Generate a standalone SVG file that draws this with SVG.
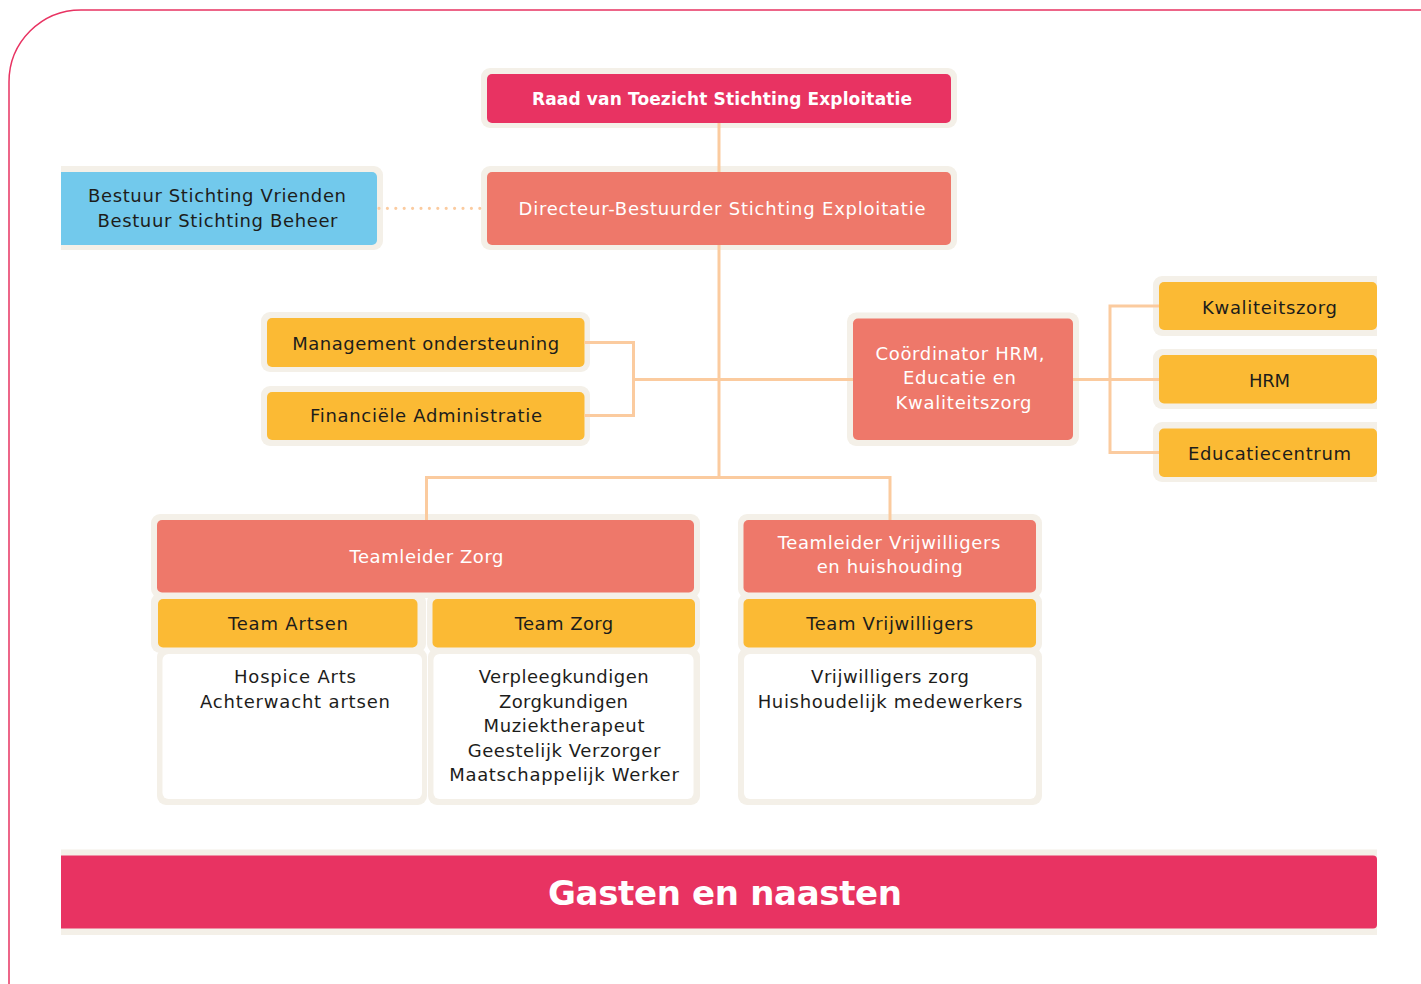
<svg xmlns="http://www.w3.org/2000/svg" width="1421" height="984" viewBox="0 0 1421 984">
<style>
.c{fill:#F4F0E8}
.pk{fill:#E83362}
.sa{fill:#EE786A}
.ye{fill:#FBBA34}
.bl{fill:#72C9EC}
.wh{fill:#FFFFFF}
.t{font-family:"DejaVu Sans","Liberation Sans",sans-serif;font-size:18px;fill:#1D1D1B;text-anchor:middle}
.w{fill:#FFFFFF}
.b{font-weight:bold}
.ln{stroke:#FBCB9F;stroke-width:3;fill:none}
.dot{stroke:#FBCB9F;stroke-width:3.2;fill:none;stroke-linecap:round;stroke-dasharray:0 8.4}
</style>
<defs>
<clipPath id="clip"><rect x="61" y="0" width="1316" height="984"/></clipPath>
</defs>
<rect width="1421" height="984" fill="#FFFFFF"/>
<path d="M9 984 V82 A72 72 0 0 1 81 10 H1421" fill="none" stroke="#E83362" stroke-width="1.5"/>
<g clip-path="url(#clip)">
<g id="raad">
<rect class="c" x="481" y="68" width="476" height="60" rx="9"/>
<rect class="pk" x="487" y="74" width="464" height="49" rx="5"/>
<text class="t w b" x="722" y="105" style="font-size:17px" textLength="380" lengthAdjust="spacing">Raad van Toezicht Stichting Exploitatie</text>
</g>
<g id="directeur">
<rect class="c" x="481" y="166" width="476" height="84" rx="9"/>
<rect class="sa" x="487" y="172" width="464" height="73" rx="5"/>
<text class="t w" x="722" y="215" textLength="407" lengthAdjust="spacing">Directeur-Bestuurder Stichting Exploitatie</text>
</g>
<g id="bestuur">
<rect class="c" x="49" y="166" width="334" height="84" rx="9"/>
<rect class="bl" x="55" y="172" width="322" height="73" rx="5"/>
<text class="t" x="217" y="202" textLength="258" lengthAdjust="spacing">Bestuur Stichting Vrienden</text>
<text class="t" x="217.5" y="227" textLength="240" lengthAdjust="spacing">Bestuur Stichting Beheer</text>
</g>
<g id="management">
<rect class="c" x="261" y="312" width="329" height="60" rx="9"/>
<rect class="ye" x="267" y="318" width="317.5" height="49" rx="5"/>
<text class="t" x="425.7" y="350" textLength="267" lengthAdjust="spacing">Management ondersteuning</text>
</g>
<g id="financiele">
<rect class="c" x="261" y="386" width="329" height="60" rx="9"/>
<rect class="ye" x="267" y="392" width="317.5" height="48" rx="5"/>
<text class="t" x="426" y="422" textLength="232" lengthAdjust="spacing">Financiële Administratie</text>
</g>
<g id="coordinator">
<rect class="c" x="847" y="312.5" width="232" height="133.5" rx="9"/>
<rect class="sa" x="853" y="318.5" width="220" height="121.5" rx="5"/>
<text class="t w" x="960" y="360" textLength="169" lengthAdjust="spacing">Coördinator HRM,</text>
<text class="t w" x="959.5" y="384" textLength="113" lengthAdjust="spacing">Educatie en</text>
<text class="t w" x="963.5" y="409" textLength="136" lengthAdjust="spacing">Kwaliteitszorg</text>
</g>
<g id="kwaliteitszorg">
<rect class="c" x="1153" y="276" width="240" height="60" rx="9"/>
<rect class="ye" x="1159" y="282" width="218" height="48" rx="5"/>
<text class="t" x="1269.5" y="314" textLength="135" lengthAdjust="spacing">Kwaliteitszorg</text>
</g>
<g id="hrm">
<rect class="c" x="1153" y="349" width="240" height="60" rx="9"/>
<rect class="ye" x="1159" y="355" width="218" height="48.5" rx="5"/>
<text class="t" x="1269.5" y="387" textLength="41" lengthAdjust="spacing">HRM</text>
</g>
<g id="educatiecentrum">
<rect class="c" x="1153" y="422" width="240" height="60" rx="9"/>
<rect class="ye" x="1159" y="428.5" width="218" height="48.5" rx="5"/>
<text class="t" x="1269.5" y="460" textLength="163" lengthAdjust="spacing">Educatiecentrum</text>
</g>
<g id="teamleider-zorg">
<rect class="c" x="151" y="514" width="549" height="84" rx="9"/>
<rect class="sa" x="157" y="520" width="537" height="72.5" rx="5"/>
<text class="t w" x="426.5" y="563" textLength="154" lengthAdjust="spacing">Teamleider Zorg</text>
</g>
<g id="team-artsen">
<rect class="c" x="151" y="593" width="275" height="60" rx="9"/>
<rect class="ye" x="158" y="599" width="259.5" height="48.5" rx="5"/>
<text class="t" x="288" y="630" textLength="120" lengthAdjust="spacing">Team Artsen</text>
</g>
<g id="team-zorg">
<rect class="c" x="427" y="593" width="273" height="60" rx="9"/>
<rect class="ye" x="432.5" y="599" width="262.5" height="48.5" rx="5"/>
<text class="t" x="564" y="630" textLength="98.5" lengthAdjust="spacing">Team Zorg</text>
</g>
<g id="artsen-leden">
<rect class="c" x="157" y="648" width="270" height="157" rx="9"/>
<rect class="wh" x="162.5" y="654" width="259.5" height="145" rx="6"/>
<text class="t" x="295" y="683" textLength="122" lengthAdjust="spacing">Hospice Arts</text>
<text class="t" x="295" y="708" textLength="190" lengthAdjust="spacing">Achterwacht artsen</text>
</g>
<g id="zorg-leden">
<rect class="c" x="428" y="648" width="272" height="157" rx="9"/>
<rect class="wh" x="433.5" y="654" width="260" height="145" rx="6"/>
<text class="t" x="563.7" y="683" textLength="170" lengthAdjust="spacing">Verpleegkundigen</text>
<text class="t" x="563.5" y="708" textLength="129" lengthAdjust="spacing">Zorgkundigen</text>
<text class="t" x="564" y="732" textLength="161" lengthAdjust="spacing">Muziektherapeut</text>
<text class="t" x="564" y="757" textLength="192.6" lengthAdjust="spacing">Geestelijk Verzorger</text>
<text class="t" x="564" y="781" textLength="229.6" lengthAdjust="spacing">Maatschappelijk Werker</text>
</g>
<g id="teamleider-vrijwilligers">
<rect class="c" x="738" y="514" width="304" height="84" rx="9"/>
<rect class="sa" x="743.5" y="520" width="292.5" height="72.5" rx="5"/>
<text class="t w" x="889" y="549" textLength="222.7" lengthAdjust="spacing">Teamleider Vrijwilligers</text>
<text class="t w" x="889.7" y="572.5" textLength="146" lengthAdjust="spacing">en huishouding</text>
</g>
<g id="team-vrijwilligers">
<rect class="c" x="738" y="593" width="304" height="60" rx="9"/>
<rect class="ye" x="743.5" y="599" width="292.5" height="48.5" rx="5"/>
<text class="t" x="889.7" y="630" textLength="167" lengthAdjust="spacing">Team Vrijwilligers</text>
</g>
<g id="vrijwilligers-leden">
<rect class="c" x="738" y="648" width="304" height="157" rx="9"/>
<rect class="wh" x="744" y="654" width="292" height="145" rx="6"/>
<text class="t" x="890" y="683" textLength="158" lengthAdjust="spacing">Vrijwilligers zorg</text>
<text class="t" x="890" y="708" textLength="264.7" lengthAdjust="spacing">Huishoudelijk medewerkers</text>
</g>
<g id="gasten">
<rect class="c" x="55" y="849.5" width="1328" height="85.5" rx="4"/>
<rect class="pk" x="55" y="855.5" width="1322" height="73" rx="4"/>
<text class="t w b" x="725" y="905" style="font-size:34px" textLength="354" lengthAdjust="spacing">Gasten en naasten</text>
</g>
<g id="connectors">
<path class="ln" d="M719 123 V172"/>
<path class="dot" d="M379 208.3 H482"/>
<path class="ln" d="M719 245 V477"/>
<path class="ln" d="M584.5 342.5 H633.5 V415.5 H584.5"/>
<path class="ln" d="M633.5 379.5 H853"/>
<path class="ln" d="M1073 379.5 H1159"/>
<path class="ln" d="M1159 306 H1110 V452.5 H1159"/>
<path class="ln" d="M426.5 520 V477.5 H890 V520"/>
</g>
</g>
</svg>
